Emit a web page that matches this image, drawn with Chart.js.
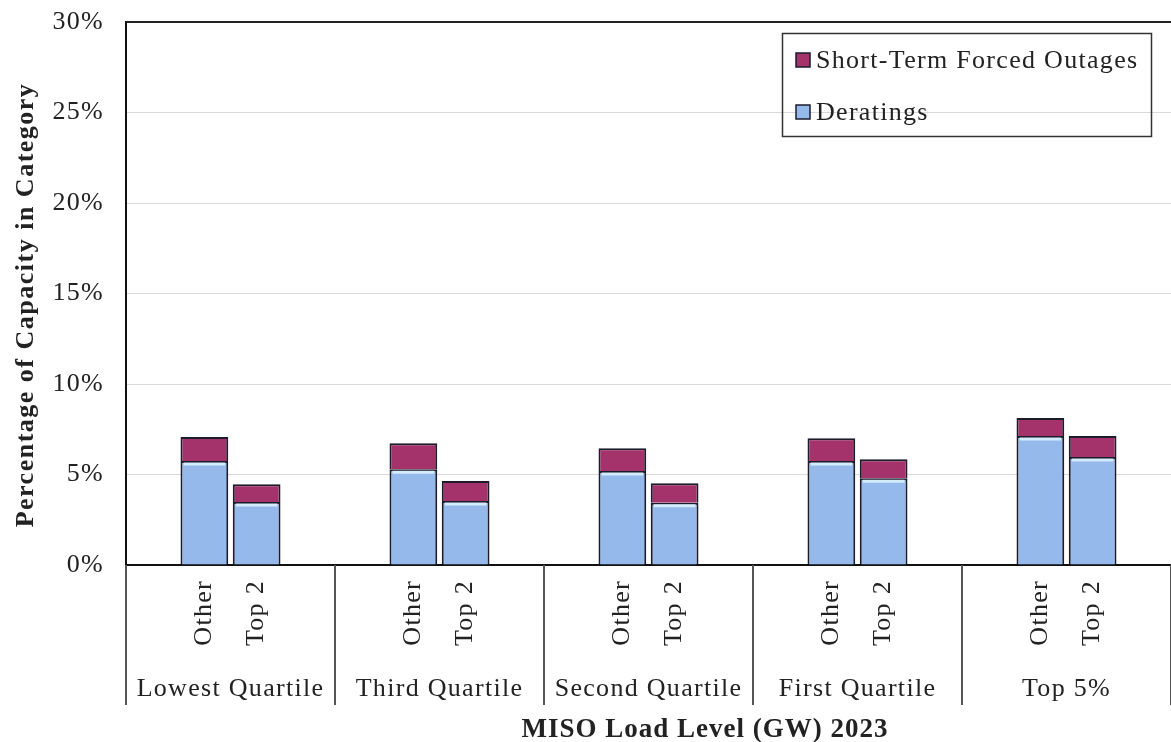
<!DOCTYPE html>
<html>
<head>
<meta charset="utf-8">
<script src="https://cdn.jsdelivr.net/npm/chart.js@4.4.0/dist/chart.umd.min.js"></script>
<style>
  html, body { margin: 0; padding: 0; background: #fff; }
  #wrap { width: 1171px; height: 742px; position: relative; }
</style>
</head>
<body>
<div id="wrap"><canvas id="outageChart"></canvas></div>
<script>
// ==========================
// DATA
// ==========================
const groups = ["Lowest Quartile", "Third Quartile", "Second Quartile", "First Quartile", "Top 5%"];
const subLabels = ["Other", "Top 2"];

const deratingOther = [5.75, 5.29, 5.19, 5.75, 7.13];
const outageOther   = [1.32, 1.43, 1.26, 1.25, 0.99];
const deratingTop2  = [3.48, 3.54, 3.44, 4.79, 5.97];
const outageTop2    = [0.98, 1.10, 1.07, 1.05, 1.16];

const yMin = 0, yMax = 30, yStep = 5;

const xTitle = "MISO Load Level (GW) 2023";
const yTitle = "Percentage of Capacity in Category";

// ==========================
// STYLE
// ==========================
const SERIF = "'Liberation Serif', 'Times New Roman', serif";
const TEXT = "#222";
const BLUE = "#95b9ea";
const MAGENTA = "#a3336a";
const EDGE = "#1c1c2c";
const SPACING = "1.3px";

Chart.defaults.font.family = SERIF;
Chart.defaults.font.size = 26;
Chart.defaults.color = TEXT;

// ==========================
// PLUGIN: extra drawing (titles, sub labels, separators, legend, frame)
// ==========================
const extras = {
  id: "extras",
  beforeDraw(chart) {
    chart.ctx.letterSpacing = SPACING;
  },
  afterDatasetsDraw(chart) {
    // light highlight at top of the derating bars
    const ctx = chart.ctx;
    ctx.save();
    ctx.strokeStyle = "#d4ebfb";
    ctx.lineWidth = 3;
    [0, 2].forEach(dsIdx => {
      chart.getDatasetMeta(dsIdx).data.forEach(bar => {
        const half = bar.width / 2 - 3;
        ctx.beginPath();
        ctx.moveTo(bar.x - half, bar.y + 3);
        ctx.lineTo(bar.x + half, bar.y + 3);
        ctx.stroke();
      });
    });
    ctx.restore();
  },
  afterDraw(chart) {
    const ctx = chart.ctx;
    const area = chart.chartArea;
    ctx.save();
    ctx.letterSpacing = SPACING;

    // top frame line
    ctx.strokeStyle = "#222";
    ctx.lineWidth = 2;
    ctx.beginPath();
    ctx.moveTo(area.left, area.top);
    ctx.lineTo(area.right, area.top);
    ctx.stroke();

    // group separators under the axis
    const step = (area.right - area.left) / groups.length;
    ctx.strokeStyle = "#555";
    ctx.lineWidth = 2;
    for (let i = 0; i <= groups.length; i++) {
      const x = Math.round(area.left + i * step);
      ctx.beginPath();
      ctx.moveTo(x, area.bottom);
      ctx.lineTo(x, 705);
      ctx.stroke();
    }

    // rotated Other / Top 2 labels
    ctx.fillStyle = TEXT;
    ctx.font = "26px " + SERIF;
    ctx.textAlign = "right";
    ctx.textBaseline = "middle";
    [0, 2].forEach((dsIdx, k) => {
      chart.getDatasetMeta(dsIdx).data.forEach(bar => {
        ctx.save();
        ctx.translate(bar.x, area.bottom + 15);
        ctx.rotate(-Math.PI / 2);
        ctx.fillText(subLabels[k], 0, 0);
        ctx.restore();
      });
    });

    // axis titles
    ctx.font = "bold 27px " + SERIF;
    ctx.letterSpacing = "1px";
    ctx.textAlign = "center";
    ctx.textBaseline = "alphabetic";
    ctx.fillText(xTitle, 705, 737);

    ctx.font = "bold 26px " + SERIF;
    ctx.letterSpacing = "1.5px";
    ctx.save();
    ctx.translate(26, 305);
    ctx.rotate(-Math.PI / 2);
    ctx.textBaseline = "middle";
    ctx.fillText(yTitle, 0, 0);
    ctx.restore();

    // legend
    ctx.font = "26px " + SERIF;
    ctx.letterSpacing = SPACING;
    ctx.strokeStyle = "#333";
    ctx.lineWidth = 1.5;
    ctx.strokeRect(782.5, 33.5, 369, 103);
    const items = [
      { label: "Short-Term Forced Outages", color: MAGENTA, y: 60 },
      { label: "Deratings", color: BLUE, y: 112 },
    ];
    items.forEach(it => {
      ctx.fillStyle = it.color;
      ctx.fillRect(796, it.y - 7, 14, 14);
      ctx.strokeStyle = EDGE;
      ctx.lineWidth = 1.5;
      ctx.strokeRect(796, it.y - 7, 14, 14);
      ctx.fillStyle = TEXT;
      ctx.textAlign = "left";
      ctx.textBaseline = "middle";
      ctx.fillText(it.label, 816, it.y + 1);
    });

    ctx.restore();
  }
};

// ==========================
// CHART
// ==========================
const barStyle = { borderColor: EDGE, borderWidth: 2, categoryPercentage: 0.5, barPercentage: 0.914 };

new Chart(document.getElementById("outageChart"), {
  type: "bar",
  data: {
    labels: groups,
    datasets: [
      { label: "Deratings", data: deratingOther, stack: "other", backgroundColor: BLUE, ...barStyle },
      { label: "Short-Term Forced Outages", data: outageOther, stack: "other", backgroundColor: MAGENTA, ...barStyle },
      { label: "Deratings", data: deratingTop2, stack: "top2", backgroundColor: BLUE, ...barStyle },
      { label: "Short-Term Forced Outages", data: outageTop2, stack: "top2", backgroundColor: MAGENTA, ...barStyle },
    ]
  },
  options: {
    responsive: true,
    maintainAspectRatio: false,
    animation: false,
    layout: { padding: { top: 22, right: 0, bottom: 0, left: 0 } },
    plugins: {
      legend: { display: false },
      tooltip: { enabled: false }
    },
    scales: {
      x: {
        stacked: true,
        grid: { display: false },
        border: { display: true, color: "#111", width: 2 },
        ticks: { padding: 101, font: { size: 26 }, color: TEXT, maxRotation: 0, autoSkip: false },
        afterFit(scale) {
          scale.height = 177;
          scale.paddingLeft = 0;
          scale.paddingRight = 0;
        }
      },
      y: {
        stacked: true,
        min: yMin,
        max: yMax,
        grid: { color: "#d9d9d9", lineWidth: 1, drawTicks: false },
        border: { display: true, color: "#111", width: 2 },
        ticks: {
          stepSize: yStep,
          padding: 22,
          color: TEXT,
          font: { size: 26 },
          callback: v => v + "%"
        },
        afterFit(scale) {
          scale.width = 126;
          scale.paddingTop = 0;
          scale.paddingBottom = 0;
        }
      }
    }
  },
  plugins: [extras]
});
</script>
</body>
</html>
